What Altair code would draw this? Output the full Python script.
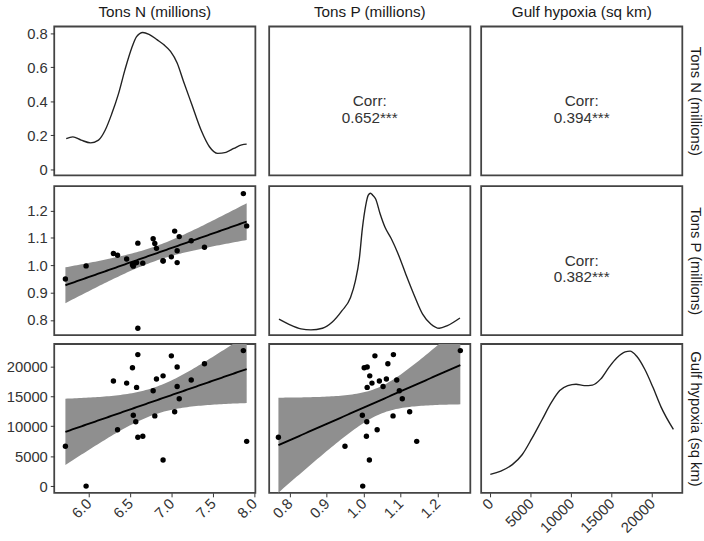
import numpy as np
import pandas as pd
import altair as alt

FONT = "Liberation Sans"

tons_n = [5.72, 5.97, 6.30, 6.35, 6.46, 6.53, 6.54, 6.57, 6.58, 6.595, 6.595, 6.655, 6.78,
          6.80, 6.82, 6.90, 6.90, 7.00, 7.04, 7.07, 7.07, 7.095, 7.24, 7.40, 7.87, 7.91]
tons_p = [0.950, 0.998, 1.043, 1.037, 1.023, 1.002, 0.997, 1.009, 1.010, 1.081, 0.770, 1.008, 1.097,
          1.080, 1.062, 1.017, 1.016, 1.031, 1.125, 1.053, 1.010, 1.105, 1.090, 1.066, 1.262, 1.144]
hypoxia = [6650, 0, 17550, 9400, 17200, 19770, 11830, 10740, 16480, 21960, 8170, 8330, 15930,
           11720, 17880, 18410, 4360, 21750, 12420, 16620, 19880, 14580, 17710, 20420, 22630, 7470]

# ---- density curves ----
n_dens_x = [5.73, 5.81, 5.91, 6.025, 6.12, 6.20, 6.28, 6.36, 6.44, 6.52, 6.58, 6.655, 6.73,
            6.83, 6.91, 6.99, 7.07, 7.145, 7.245, 7.36, 7.46, 7.56, 7.66, 7.755, 7.85, 7.91]
n_dens_y = [0.18, 0.19, 0.171, 0.155, 0.171, 0.229, 0.326, 0.442, 0.587, 0.713, 0.781, 0.806, 0.795,
            0.762, 0.733, 0.694, 0.626, 0.52, 0.384, 0.229, 0.132, 0.093, 0.099, 0.122, 0.143, 0.147]

p_dens_x = [0.7715, 0.80, 0.831, 0.858, 0.889, 0.915, 0.942, 0.965, 0.978, 0.989, 0.997, 1.006, 1.013,
            1.019, 1.025, 1.033, 1.045, 1.058, 1.075, 1.093, 1.115, 1.138, 1.16, 1.182, 1.205, 1.227, 1.261]
p_dens_y = [0.108, 0.071, 0.042, 0.035, 0.046, 0.086, 0.164, 0.252, 0.362, 0.517, 0.715, 0.870, 0.94,
            0.953, 0.94, 0.914, 0.815, 0.726, 0.649, 0.55, 0.406, 0.263, 0.141, 0.075, 0.046, 0.064, 0.115]

h_dens_x = [0, 1300, 2720, 3930, 5140, 6360, 7570, 8580, 9580, 10600, 11610, 12620, 13630,
            14640, 15650, 16670, 17270, 18070, 19090, 20100, 21110, 22630]
h_dens_y = [0.124, 0.146, 0.19, 0.256, 0.366, 0.488, 0.609, 0.687, 0.72, 0.73, 0.72, 0.724, 0.764,
            0.841, 0.907, 0.947, 0.952, 0.919, 0.83, 0.709, 0.576, 0.426]

var_labels = ["Tons N (millions)", "Tons P (millions)", "Gulf hypoxia (sq km)"]
corr_np, corr_nh, corr_ph = "0.652***", "0.394***", "0.382***"

n_ticks = [6.0, 6.5, 7.0, 7.5, 8.0]
p_ticks = [0.8, 0.9, 1.0, 1.1, 1.2]
h_ticks = [0, 5000, 10000, 15000, 20000]
dens_ticks = [0, 0.2, 0.4, 0.6, 0.8]

DOM = {"n": [5.585, 8.015], "p": [0.745, 1.289], "h": [-1130, 23730]}
TICKS = {"n": n_ticks, "p": p_ticks, "h": h_ticks}
FMT = {"n": ".1f", "p": ".1f", "h": "d"}
COLS = {"n": tons_n, "p": tons_p, "h": hypoxia}

W, H = 204, 151
TEXT_DARK = "#1a1a1a"
LABEL_COL = "#333333"


def fit_band(x, y, n=80):
    x = np.asarray(x, float)
    y = np.asarray(y, float)
    b1, b0 = np.polyfit(x, y, 1)
    resid = y - (b0 + b1 * x)
    df = len(x) - 2
    s = np.sqrt(np.sum(resid ** 2) / df)
    xm = x.mean()
    sxx = np.sum((x - xm) ** 2)
    grid = np.linspace(x.min(), x.max(), n)
    fit = b0 + b1 * grid
    se = s * np.sqrt(1.0 / len(x) + (grid - xm) ** 2 / sxx)
    t = 2.0639  # t quantile 0.975, df = 24
    return pd.DataFrame({"x": grid, "fit": fit, "lo": fit - t * se, "hi": fit + t * se})


def x_enc(field, var, show):
    if var == "unit":
        return alt.X(field, type="quantitative", scale=alt.Scale(domain=[0, 1], nice=False, zero=False), axis=None)
    if show:
        axis = alt.Axis(values=TICKS[var], format=FMT[var], labelAngle=-45, labelAlign="right",
                        labelBaseline="middle", title=None, grid=False, domain=False,
                        tickSize=4, labelPadding=4)
    else:
        axis = None
    return alt.X(field, type="quantitative", scale=alt.Scale(domain=DOM[var], nice=False, zero=False), axis=axis)


def y_axis(mode, var=None, title=None):
    if mode == "left":
        kw = dict(values=TICKS[var] if var in TICKS else dens_ticks, title=None, grid=False,
                  domain=False, tickSize=4, labelPadding=3)
        if var == "dens":
            kw["labelExpr"] = "datum.value == 0 ? '0' : format(datum.value, '.1f')"
        else:
            kw["format"] = FMT[var]
        return alt.Axis(**kw)
    if mode == "right":
        return alt.Axis(orient="right", title=title, labels=False, ticks=False, domain=False, grid=False,
                        titlePadding=5, titleFont=FONT, titleFontSize=15, titleColor=TEXT_DARK,
                        titleFontWeight="normal")
    return None


def y_enc(field, dom, mode, var=None, title=None):
    return alt.Y(field, type="quantitative", scale=alt.Scale(domain=dom, nice=False, zero=False),
                 axis=y_axis(mode, var, title))


def top_title(text):
    return alt.TitleParams(text=text, orient="top", anchor="middle", font=FONT, fontSize=15.5,
                           color=TEXT_DARK, fontWeight="normal", offset=6)


def scatter(xv, yv, show_x, ymode):
    pts = pd.DataFrame({"x": COLS[xv], "y": COLS[yv]})
    band = fit_band(COLS[xv], COLS[yv])
    area = alt.Chart(band).mark_area(color="#8f8f8f", opacity=1, clip=True).encode(
        x=x_enc("x", xv, show_x), y=y_enc("lo", DOM[yv], ymode, yv), y2="hi")
    line = alt.Chart(band).mark_line(color="black", strokeWidth=1.9, clip=True).encode(
        x=x_enc("x", xv, show_x), y=y_enc("fit", DOM[yv], ymode, yv))
    dots = alt.Chart(pts).mark_circle(color="black", opacity=1, size=30, clip=True).encode(
        x=x_enc("x", xv, show_x), y=y_enc("y", DOM[yv], ymode, yv))
    return alt.layer(area, line, dots).properties(width=W, height=H)


def density(xs, ys, xv, ydom, show_x, ymode, yvar=None, ytitle=None):
    df = pd.DataFrame({"x": xs, "d": ys})
    return alt.Chart(df).mark_line(color="#222222", strokeWidth=1.4, interpolate="monotone", clip=True).encode(
        x=x_enc("x", xv, show_x), y=y_enc("d", ydom, ymode, yvar, ytitle)
    ).properties(width=W, height=H)


def corr_panel(value, ymode="none", ytitle=None):
    df = pd.DataFrame({"x": [0.5], "y": [0.5], "t": ["Corr:\n" + value]})
    return alt.Chart(df).mark_text(lineBreak="\n", font=FONT, fontSize=15.5, color=LABEL_COL,
                                   align="center", baseline="middle", lineHeight=17).encode(
        x=x_enc("x", "unit", False), y=y_enc("y", [0, 1], ymode, None, ytitle), text="t"
    ).properties(width=W, height=H)


p11 = density(n_dens_x, n_dens_y, "n", [-0.037, 0.841], False, "left", "dens").properties(
    title=top_title(var_labels[0]))
p12 = corr_panel(corr_np).properties(title=top_title(var_labels[1]))
p13 = corr_panel(corr_nh, "right", var_labels[0]).properties(title=top_title(var_labels[2]))

p21 = scatter("n", "p", False, "left")
p22 = density(p_dens_x, p_dens_y, "p", [0, 1], False, "none")
p23 = corr_panel(corr_ph, "right", var_labels[1])

p31 = scatter("n", "h", True, "left")
p32 = scatter("p", "h", True, "none")
p33 = density(h_dens_x, h_dens_y, "h", [0, 1], True, "right", None, var_labels[2])

chart = alt.concat(p11, p12, p13, p21, p22, p23, p31, p32, p33, columns=3, spacing=7).properties(
    padding={"left": 5, "top": 0, "right": 1, "bottom": 5}
).configure_view(
    stroke="#444444", strokeWidth=1.8
).configure_axis(
    labelFont=FONT, labelFontSize=15, labelColor=LABEL_COL, tickColor="#333333", tickWidth=1
)

chart.save("out.html", embed_options={"renderer": "svg", "actions": False})
